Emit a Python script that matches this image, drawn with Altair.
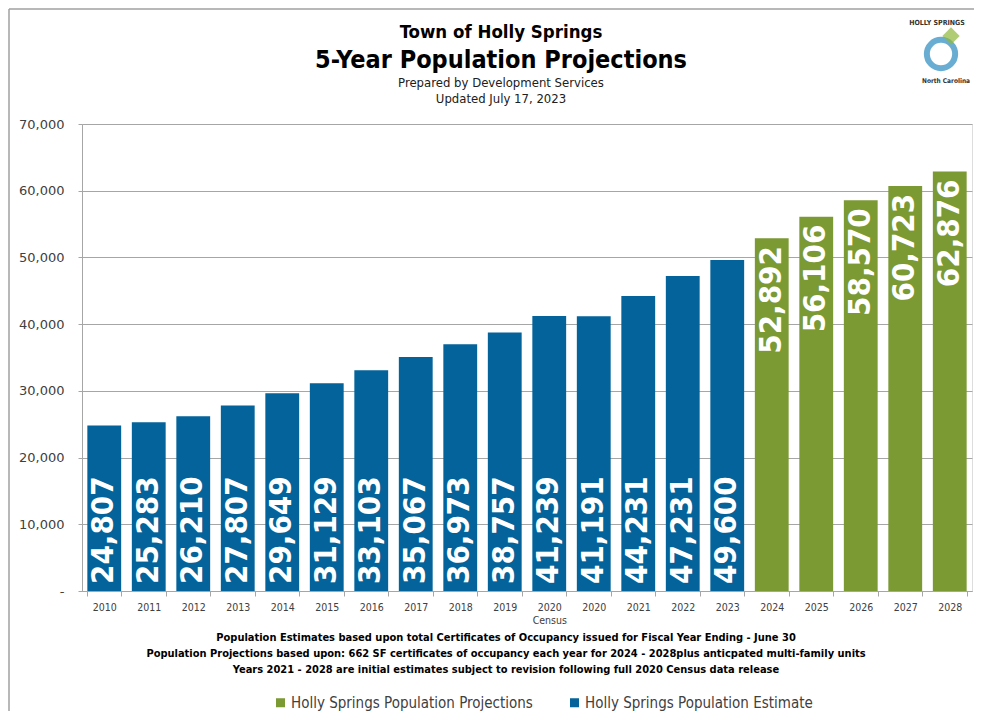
import altair as alt
import pandas as pd

years = ["2010", "2011", "2012", "2013", "2014", "2015", "2016", "2017", "2018", "2019",
         "2020|Census", "2020", "2021", "2022", "2023",
         "2024", "2025", "2026", "2027", "2028"]
values = [24807, 25283, 26210, 27807, 29649, 31129, 33103, 35067, 36973, 38757,
          41239, 41191, 44231, 47231, 49600,
          52892, 56106, 58570, 60723, 62876]
EST = "Holly Springs Population Estimate"
PROJ = "Holly Springs Population Projections"
series = [EST] * 15 + [PROJ] * 5
y_ticks = [0, 10000, 20000, 30000, 40000, 50000, 60000, 70000]

title1 = "Town of Holly Springs"
title2 = "5-Year Population Projections"
sub1 = "Prepared by Development Services"
sub2 = "Updated July 17, 2023"
notes = [
    "Population Estimates based upon total Certificates of Occupancy issued for Fiscal Year Ending - June 30",
    "Population Projections based upon: 662 SF certificates of occupancy each year for 2024 - 2028plus anticpated multi-family units",
    "Years 2021 - 2028 are initial estimates subject to revision following full 2020 Census data release",
]
logo_top = "HOLLY SPRINGS"
logo_bottom = "North Carolina"

BLUE = "#03639a"
GREEN = "#7b9a34"
GRAY = "#404040"
FONT = "DejaVu Sans Condensed"

df = pd.DataFrame({"year": years, "value": values, "series": series})

x_enc = alt.X(
    "year:N", sort=years, title=None,
    scale=alt.Scale(paddingInner=0.24, paddingOuter=0.12),
    axis=alt.Axis(labelAngle=0, labelExpr="split(datum.label, '|')", tickBand="extent",
                  tickSize=5, labelPadding=6, labelFont=FONT, labelFontSize=10.5,
                  labelColor=GRAY, domainColor="#a6a6a6", tickColor="#a6a6a6",
                  labelLineHeight=13),
)
y_scale = alt.Scale(domain=[0, 70000], nice=False)

bars = alt.Chart(df).mark_bar().encode(
    x=x_enc,
    y=alt.Y("value:Q", scale=y_scale, title=None,
            axis=alt.Axis(values=y_ticks,
                          labelExpr="datum.value == 0 ? '-' : format(datum.value, ',')",
                          tickSize=4, labelPadding=14, labelFont="DejaVu Sans", labelFontSize=13,
                          labelColor=GRAY, gridColor="#a6a6a6", domainColor="#a6a6a6",
                          tickColor="#a6a6a6")),
    color=alt.Color("series:N", scale=alt.Scale(domain=[PROJ, EST], range=[GREEN, BLUE]),
                    legend=alt.Legend(title=None, orient="none", direction="horizontal",
                                      legendX=191, legendY=571, symbolType="square",
                                      symbolSize=81, symbolStrokeWidth=0, labelFont=FONT,
                                      labelFontSize=15, labelColor=GRAY, labelLimit=400,
                                      columnPadding=34, labelOffset=3, padding=0)),
)

label_est = alt.Chart(df).transform_filter(alt.datum.series == EST).transform_calculate(
    base="0").mark_text(angle=270, align="left", baseline="middle", dx=7, color="white",
                        font=FONT, fontWeight="bold", fontSize=31).encode(
    x=alt.X("year:N", sort=years),
    y=alt.Y("base:Q", scale=y_scale),
    text=alt.Text("value:Q", format=","),
)

label_proj = alt.Chart(df).transform_filter(alt.datum.series == PROJ).mark_text(
    angle=270, align="right", baseline="middle", dx=-8, color="white",
    font=FONT, fontWeight="bold", fontSize=31).encode(
    x=alt.X("year:N", sort=years),
    y=alt.Y("value:Q", scale=y_scale),
    text=alt.Text("value:Q", format=","),
)


def txt(s, x, y, size, bold=False, color="black", align="center", font=FONT, angle=0):
    kw = dict(align=align, baseline="middle", fontSize=size, font=font, color=color,
              fontWeight="bold" if bold else "normal")
    if angle:
        kw["angle"] = angle
    return alt.Chart(alt.Data(values=[{"t": s}])).mark_text(**kw).encode(
        x=alt.value(x), y=alt.value(y), text="t:N")


titles = [
    txt(title1, 419, -92, 18.5, bold=True),
    txt(title2, 419, -64, 25, bold=True),
    txt(sub1, 419, -41, 13, color="#202020"),
    txt(sub2, 419, -25, 13, color="#202020"),
]
foot = [txt(n, 424, 514 + 16 * i, 11, bold=True) for i, n in enumerate(notes)]

# simple logo stand-in
logo_circle = alt.Chart(alt.Data(values=[{"a": 1}])).mark_point(
    shape="circle", filled=False, strokeWidth=6, color="#2b8cbf", size=800).encode(
    x=alt.value(859), y=alt.value(-70))
logo_leaf = alt.Chart(alt.Data(values=[{"a": 1}])).mark_point(
    shape="diamond", filled=True, color="#8fb83c", size=300).encode(
    x=alt.value(869), y=alt.value(-88))
logo_txt = [
    txt(logo_top, 855, -101, 7, bold=True, color="#333333"),
    txt(logo_bottom, 864, -43, 6.5, bold=True, color="#333333"),
]

frame_left = alt.Chart(alt.Data(values=[{"a": 1}])).mark_rule(color="#a0a0a0", strokeWidth=1.5).encode(
    x=alt.value(-73), y=alt.value(-115), y2=alt.value(587))
frame_top = alt.Chart(alt.Data(values=[{"a": 1}])).mark_rule(color="#a0a0a0", strokeWidth=1.5).encode(
    x=alt.value(-73), x2=alt.value(892), y=alt.value(-115))

chart = alt.layer(
    frame_left, frame_top, bars, label_est, label_proj, *titles, *foot,
    logo_circle, logo_leaf, *logo_txt
).properties(
    width=890, height=467,
    autosize=alt.AutoSizeParams(type="none"),
    padding={"left": 74, "top": 116, "right": 2, "bottom": 120},
).configure_view(stroke="#7fa7c9", strokeWidth=1).configure(background="white")

chart.save("out.html", embed_options={"renderer": "svg", "actions": False})
